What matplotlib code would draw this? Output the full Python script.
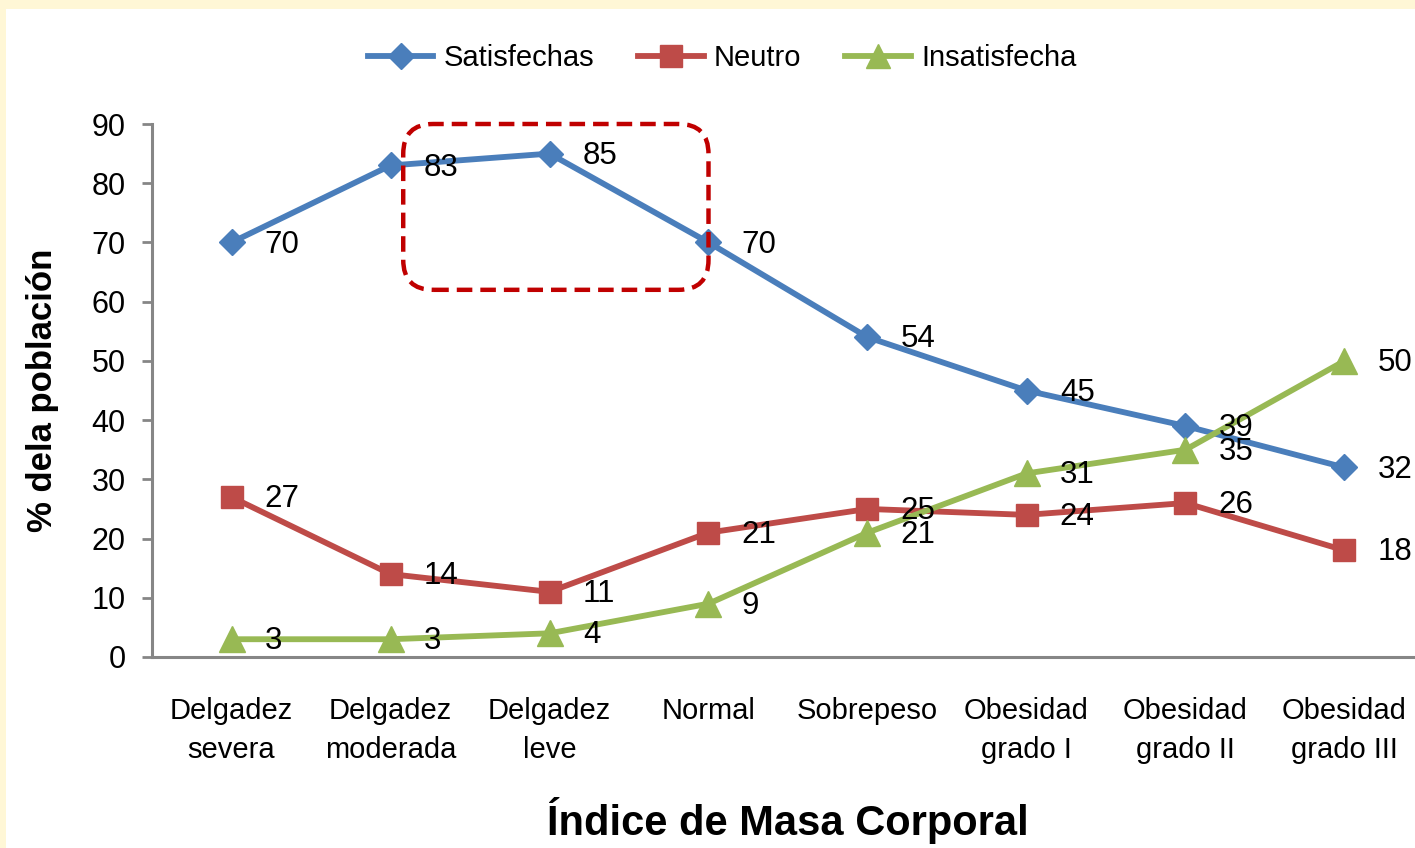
import matplotlib
matplotlib.use("Agg")
import matplotlib.pyplot as plt
from matplotlib.patches import FancyBboxPatch, Rectangle
from matplotlib.transforms import IdentityTransform

# Data
categories = ["Delgadez\nsevera", "Delgadez\nmoderada", "Delgadez\nleve", "Normal",
              "Sobrepeso", "Obesidad\ngrado I", "Obesidad\ngrado II", "Obesidad\ngrado III"]
satisfechas = [70, 83, 85, 70, 54, 45, 39, 32]
neutro = [27, 14, 11, 21, 25, 24, 26, 18]
insatisfecha = [3, 3, 4, 9, 21, 31, 35, 50]
y_ticks = [0, 10, 20, 30, 40, 50, 60, 70, 80, 90]

plt.rcParams["font.family"] = ["Liberation Sans", "DejaVu Sans"]

W, H = 1415, 848
fig = plt.figure(figsize=(W / 100, H / 100), dpi=100, facecolor="white")

# light yellow frame on the top and left edges
fig.patches.append(Rectangle((0, 1 - 9 / H), 1, 9 / H, transform=fig.transFigure,
                             facecolor="#FFF7D6", edgecolor="none", zorder=0))
fig.patches.append(Rectangle((0, 0), 6 / W, 1, transform=fig.transFigure,
                             facecolor="#FFF7D6", edgecolor="none", zorder=0))

ax = fig.add_axes([152 / W, 191 / H, 1272 / W, 533 / H])
ax.set_facecolor("none")

x = list(range(len(categories)))
series = [
    ("Satisfechas", satisfechas, "#4A7EBB", "D", 13.5),
    ("Neutro", neutro, "#BE4B48", "s", 16.5),
    ("Insatisfecha", insatisfecha, "#98B954", "^", 18.5),
]
for label, vals, color, marker, ms in series:
    ax.plot(x, vals, color=color, lw=4.2, marker=marker, markersize=ms,
            markerfacecolor=color, markeredgecolor=color, label=label,
            clip_on=False, zorder=3)
    for xi, v in zip(x, vals):
        ax.annotate(f"{v}", (xi, v), xytext=(24, -1.5), textcoords="offset points",
                    ha="left", va="center", fontsize=22.5, color="black", zorder=5)

ax.set_xlim(-0.5, len(categories) - 0.5)
ax.set_ylim(0, 90)
ax.set_yticks(y_ticks)
ax.set_xticks(x)
ax.set_xticklabels(categories, fontsize=21, linespacing=1.5)
ax.tick_params(axis="x", length=0, pad=29)
ax.tick_params(axis="y", length=7, width=2, color="#868686", pad=12, labelsize=22)

for s in ["top", "right"]:
    ax.spines[s].set_visible(False)
for s in ["left", "bottom"]:
    ax.spines[s].set_color("#868686")
    ax.spines[s].set_linewidth(2.2)

fig.text(43 / W, 1 - 390 / H, "% dela población", rotation=90, ha="center", va="center",
         fontsize=25, fontweight="bold")
fig.text(788 / W, 1 - 820 / H, "Índice de Masa Corporal", ha="center", va="center",
         fontsize=30, fontweight="bold")

fig.legend(loc="center", bbox_to_anchor=(722 / W, 1 - 58 / H), ncol=3, frameon=False,
           fontsize=21, handlelength=2.25, handletextpad=0.35, columnspacing=1.5,
           markerscale=0.95)

# dashed highlight around the thin-category peak
fig.canvas.draw()
box_data = [(1.08, 62), (3.0, 90)]
(x0, y0), (x1, y1) = ax.transData.transform(box_data)
highlight = FancyBboxPatch((x0, y0), x1 - x0, y1 - y0,
                           boxstyle="round,pad=0,rounding_size=30",
                           transform=IdentityTransform(), fill=False,
                           edgecolor="#C00000", lw=3.2, linestyle=(0, (3.5, 1.8)),
                           zorder=6)
fig.patches.append(highlight)

fig.savefig("out.png", dpi=100, facecolor="white")
